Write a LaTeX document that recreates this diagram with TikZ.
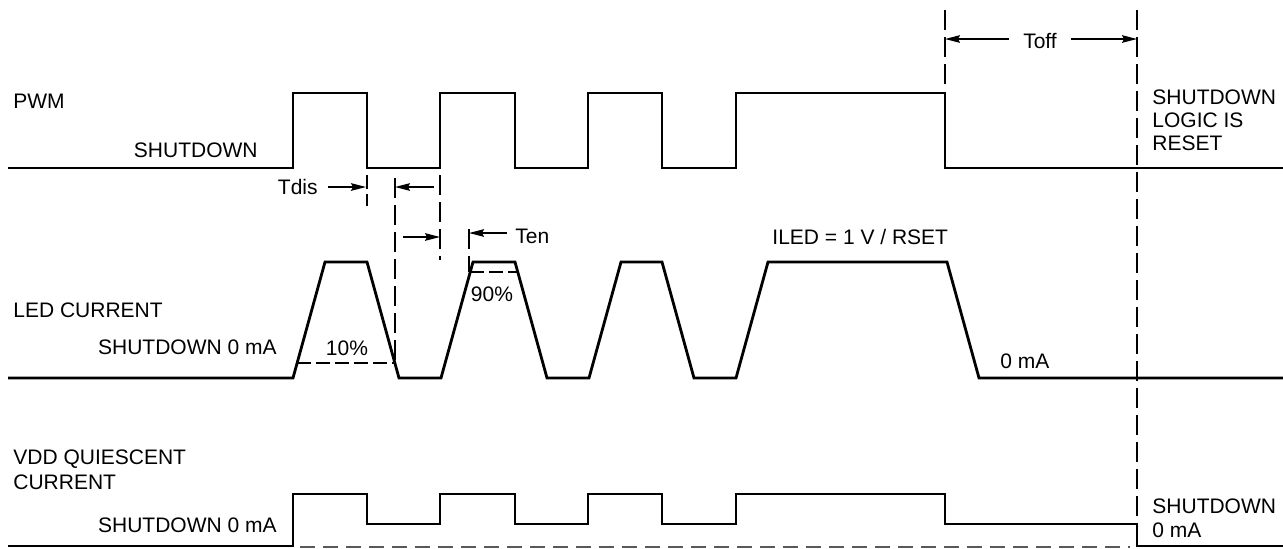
\documentclass[tikz,border=0pt]{standalone}
\usepackage{fontspec}
\setmainfont{Liberation Sans}
\usetikzlibrary{arrows.meta,positioning,calc}
\tikzset{
    wave/.style={line width=1.4pt, line join=miter},
    guide/.style={line width=0.7pt, dash pattern=on 10pt off 3.5pt},
    hguide/.style={line width=0.7pt, dash pattern=on 7pt off 2.5pt},
    baseguide/.style={line width=0.9pt, black!65, dash pattern=on 7.5pt off 4pt},
    dim/.style={line width=0.7pt, -{Stealth[length=7.5pt, width=3.8pt, inset=1pt]}},
    lbl/.style={font=\fontsize{10.5pt}{12pt}\selectfont, inner sep=0pt},
}
\begin{document}
\begin{tikzpicture}[x=0.5pt, y=-0.5pt]
    \useasboundingbox (0,0) rectangle (1283,548);
    % PWM
    \draw[wave] (8,168) foreach \r/\f in {293/367, 440/515, 588/662, 736/945} {
        -- (\r,168) -- (\r,93) -- (\f,93) -- (\f,168)
    } -- (1283,168);
    % LED current
    \draw[wave] (8,378) foreach \r/\f in {293/367, 441/515, 589/662, 736/947} {
        -- (\r,378) -- ({\r+32},262) -- (\f,262) -- ({\f+32},378)
    } -- (1283,378);
    % VDD quiescent current
    \draw[baseguide] (300,547) -- (1130,547);
    \draw[wave] (8,546) -- (293,546) foreach \r/\f in {293/367, 440/515, 588/662, 736/945} {
        -- (\r,524) -- (\r,494) -- (\f,494) -- (\f,524)
    } -- (1137,524) -- (1137,546) -- (1283,546);

    % Guides
    \draw[hguide] (367,175) -- (367,206);
    \draw[guide] (395,178) -- (395,363);
    \draw[guide] (440,175) -- (440,260);
    \draw[guide] (469,229) -- (469,272);
    \draw[guide] (945,10) -- (945,88);
    \draw[guide] (1137,10) -- (1137,524);
    \draw[hguide] (297,363) -- (395,363);
    \draw[hguide] (470,272) -- (518,272);

    % Timing marks
    \coordinate (disA) at (366,187);
    \coordinate (disB) at (395,187);
    \coordinate (enA) at (440,237);
    \coordinate (enB) at (469,233);
    \coordinate (offA) at (945,39);
    \coordinate (offB) at (1137,39);
    \node[lbl, anchor=base east, inner xsep=5pt] (tdis) at (328,194) {Tdis};
    \node[lbl, anchor=base west, inner xsep=4pt] (ten) at (507,243) {Ten};
    \node[lbl, anchor=base, inner xsep=7pt] (toff) at (1040,48) {Toff};
    \coordinate (disC) at (434,187);
    \coordinate (enC) at (403,237);
    \draw[dim] (tdis.east |- disA) -- (disA);
    \draw[dim] (disC) -- (disB);
    \draw[dim] (enC) -- (enA);
    \draw[dim] (ten.west |- enB) -- (enB);
    \draw[dim] (toff.west |- offA) -- (offA);
    \draw[dim] (toff.east |- offB) -- (offB);

    % Labels
    \node[lbl, anchor=base west] (pwm) at (13,108) {PWM};
    \node[lbl, anchor=base east] (pwmoff) at (258,157) {SHUTDOWN};
    \node[lbl, anchor=base west] (led) at (13,317) {LED CURRENT};
    \node[lbl, anchor=base east] (ledoff) at (277,354) {SHUTDOWN 0 mA};
    \node[lbl, anchor=base] (ten10) at (347,355) {10\%};
    \node[lbl, anchor=base] (ten90) at (492,301) {90\%};
    \node[lbl, anchor=base west] (iled) at (772,244) {ILED = 1 V / RSET};
    \node[lbl, anchor=base west] (ledzero) at (1000,368) {0 mA};
    \node[lbl, anchor=base west] (vddA) at (13,464) {VDD QUIESCENT};
    \node[lbl, anchor=base west] (vddB) at (13,489) {CURRENT};
    \node[lbl, anchor=base east] (vddoff) at (277,532) {SHUTDOWN 0 mA};
    \node[lbl, anchor=base west] (rstA) at (1152,104) {SHUTDOWN};
    \node[lbl, anchor=base west] (rstB) at (1152,127) {LOGIC IS};
    \node[lbl, anchor=base west] (rstC) at (1152,150) {RESET};
    \node[lbl, anchor=base west] (endA) at (1152,513) {SHUTDOWN};
    \node[lbl, anchor=base west] (endB) at (1152,537) {0 mA};
\end{tikzpicture}
\end{document}
